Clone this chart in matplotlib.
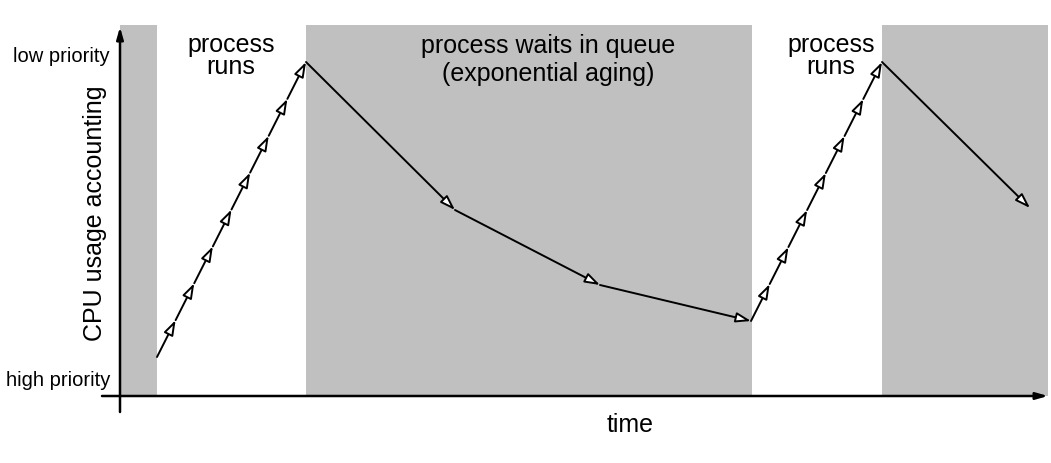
#imports
import matplotlib
matplotlib.use("Agg")
import matplotlib.pyplot as plt

#data (time on x, cpu usage accounting on y)
wait_phases = [(0, 37), (186, 632), (762, 928)]   # shaded = process waits
run_label_time = [111, 711]
wait_label_time = 428
peak_time = [37, 186, 631, 762]
peak_usage = [39, 334, 75, 334]
n_steps = [8, 7]                                  # small arrows while running
decay_time = [186, 335, 480, 631]
decay_usage = [334, 186, 111, 75]
tail_time = [762, 910]
tail_usage = [334, 188]

grey = "#c0c0c0"
fontname = "Liberation Sans"

fig = plt.figure(figsize=(10.51, 4.63), dpi=100)
ax = fig.add_axes([120/1051., 67/463., 928/1051., 371/463.])
ax.set_xlim(0, 928)
ax.set_ylim(0, 371)
ax.axis("off")

#shaded wait phases
for a, b in wait_phases:
	ax.axvspan(a, b, color=grey, lw=0, zorder=0)

def arrow(x0, y0, x1, y1):
	ax.annotate("", xy=(x1, y1), xytext=(x0, y0),
		arrowprops=dict(arrowstyle="-|>,head_length=0.9,head_width=0.3", fc="white", ec="black",
		lw=1.4, shrinkA=0, shrinkB=0), zorder=3)

#running: chains of short arrows
for k in range(2):
	x0, y0 = peak_time[2*k], peak_usage[2*k]
	x1, y1 = peak_time[2*k+1], peak_usage[2*k+1]
	n = n_steps[k]
	for i in range(n):
		arrow(x0 + (x1-x0)*i/n, y0 + (y1-y0)*i/n, x0 + (x1-x0)*(i+1)/n, y0 + (y1-y0)*(i+1)/n)

#waiting: exponential aging
for i in range(len(decay_time)-1):
	arrow(decay_time[i], decay_usage[i], decay_time[i+1], decay_usage[i+1])
arrow(tail_time[0], tail_usage[0], tail_time[1], tail_usage[1])

#axes arrows
ax.annotate("", xy=(0, 369), xytext=(0, -16), annotation_clip=False,
	arrowprops=dict(arrowstyle="-|>,head_length=0.7,head_width=0.2", fc="black", ec="black", lw=1.8, shrinkA=0, shrinkB=0))
ax.annotate("", xy=(928, 0), xytext=(-18, 0), annotation_clip=False,
	arrowprops=dict(arrowstyle="-|>,head_length=0.7,head_width=0.2", fc="black", ec="black", lw=1.8, shrinkA=0, shrinkB=0))

#labels
for t in run_label_time:
	ax.text(t, 340, "process\nruns", ha="center", va="center", fontsize=18, family=fontname, linespacing=0.85)
ax.text(wait_label_time, 336, "process waits in queue\n(exponential aging)", ha="center", va="center", fontsize=18, family=fontname, linespacing=1.2)
ax.text(-10, 339, "low priority", ha="right", va="center", fontsize=14.5, family=fontname)
ax.text(-10, 15, "high priority", ha="right", va="center", fontsize=14.5, family=fontname)
ax.text(-25, 183, "CPU usage accounting", ha="center", va="center", rotation=90, fontsize=18, family=fontname)
ax.text(510, -29, "time", ha="center", va="center", fontsize=18, family=fontname, clip_on=False)

fig.savefig("out.png", dpi=100)
